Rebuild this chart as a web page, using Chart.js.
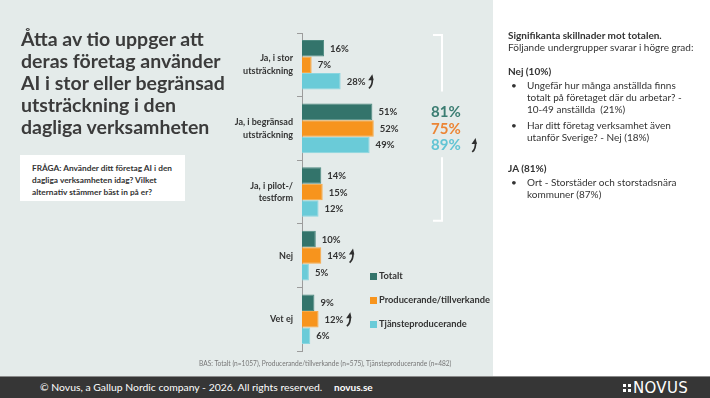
<!DOCTYPE html>
<html>
<head>
<meta charset="utf-8">
<script src="https://cdn.jsdelivr.net/npm/chart.js@4"></script>
<style>
  html, body { margin: 0; padding: 0; }
  body { width: 710px; height: 398px; position: relative; overflow: hidden; background: #fff; font-family: Lato, "Open Sans", sans-serif; color: #333; }
  #panel { position: absolute; left: 0; top: 0; width: 493px; height: 376px; background: #e4ebea; }
  #chart { position: absolute; left: 0; top: 0; z-index: 1; }
  .txt { position: absolute; z-index: 2; }
  #title { left: 21px; top: 28px; font-size: 19.5px; font-weight: 700; line-height: 22px; color: #3b3b3b; }
  #question { left: 20px; top: 155px; width: 165px; height: 46px; background: #fff; box-sizing: border-box; padding: 7px 0 0 12px; font-size: 8.3px; font-weight: 700; line-height: 12px; color: #333; }
  #legend { left: 370px; top: 270px; font-size: 9.3px; font-weight: 700; color: #333; }
  #legend div { height: 24px; display: flex; align-items: flex-start; }
  #legend span { display: inline-block; width: 7px; height: 7px; margin: 3px 2px 0 0; }
  #bas { left: 199px; top: 359px; font-size: 6.6px; color: #777; white-space: nowrap; }
  #side { left: 508px; top: 29px; font-size: 10px; line-height: 12px; color: #333; width: 200px; white-space: nowrap; }
  #side b { font-weight: 700; }
  #side ul { margin: 2px 0 0 0; padding: 0; list-style: none; }
  #side li { position: relative; padding-left: 19px; margin-bottom: 4px; }
  #side li:before { content: "•"; position: absolute; left: 3px; }
  #footer { position: absolute; left: 0; top: 376px; width: 710px; height: 22px; background: #363636; border-top: 1px solid #8a8a8a; box-sizing: border-box; color: #fff; }
  #copy { position: absolute; left: 40px; top: 4px; font-size: 10.4px; }
  #site { position: absolute; left: 334px; top: 4px; font-size: 10px; font-weight: 700; }
  #logo { position: absolute; left: 623px; top: 2px; font-size: 15px; font-family: "DejaVu Sans", sans-serif; letter-spacing: 0.3px; }
  #logo i { display: inline-block; width: 8px; height: 8px; margin-right: 2px; vertical-align: 1px;
    background: linear-gradient(#fff, #fff) 0 0 / 3px 3px no-repeat, linear-gradient(#fff, #fff) 5px 0 / 3px 3px no-repeat,
                linear-gradient(#fff, #fff) 0 5px / 3px 3px no-repeat, linear-gradient(#fff, #fff) 5px 5px / 3px 3px no-repeat; }
</style>
</head>
<body>
<div id="panel"></div>
<canvas id="chart" width="710" height="398"></canvas>

<div class="txt" id="title">Åtta av tio uppger att<br>deras företag använder<br>AI i stor eller begränsad<br>utsträckning i den<br>dagliga verksamheten</div>
<div class="txt" id="question">FRÅGA: Använder ditt företag AI i den<br>dagliga verksamheten idag? Vilket<br>alternativ stämmer bäst in på er?</div>

<div class="txt" id="legend">
  <div><span style="background:#33746b"></span>Totalt</div>
  <div><span style="background:#f7941d"></span>Producerande/tillverkande</div>
  <div><span style="background:#6acbd8"></span>Tjänsteproducerande</div>
</div>

<div class="txt" id="bas">BAS: Totalt (n=1057), Producerande/tillverkande (n=575), Tjänsteproducerande (n=482)</div>

<div class="txt" id="side">
  <b>Signifikanta skillnader mot totalen.</b><br>
  Följande undergrupper svarar i högre grad:
  <div style="height:12px"></div>
  <b>Nej (10%)</b>
  <ul>
    <li>Ungefär hur många anställda finns<br>totalt på företaget där du arbetar? -<br>10-49 anställda&nbsp; (21%)</li>
    <li>Har ditt företag verksamhet även<br>utanför Sverige? - Nej (18%)</li>
  </ul>
  <div style="height:15px"></div>
  <b>JA (81%)</b>
  <ul>
    <li>Ort - Storstäder och storstadsnära<br>kommuner (87%)</li>
  </ul>
</div>

<div id="footer">
  <div id="copy">© Novus, a Gallup Nordic company - 2026. All rights reserved.</div>
  <div id="site">novus.se</div>
  <div id="logo"><i></i>NOVUS</div>
</div>

<script>
// svarsalternativ
const categories = [['Ja, i stor', 'utsträckning'], ['Ja, i begränsad', 'utsträckning'], ['Ja, i pilot-/', 'testform'], 'Nej', 'Vet ej'];

// andel i procent
const totalt = [16, 51, 14, 10, 9];
const producerande = [7, 52, 15, 14, 12];
const tjanste = [28, 49, 12, 5, 6];

// signifikant högre än totalen
const upTotalt = [false, false, false, false, false];
const upProducerande = [false, false, false, true, true];
const upTjanste = [true, false, false, false, false];

// summa "Ja" per grupp
const jaSumma = [81, 75, 89];
const jaSummaUp = [false, false, true];
const jaFarger = ['#3b7d72', '#ec8534', '#62c4d4'];

const upFlags = [upTotalt, upProducerande, upTjanste];

function drawUp(ctx, x, y) {
    ctx.save();
    ctx.fillStyle = '#2e2e2e';
    ctx.strokeStyle = '#2e2e2e';
    ctx.lineWidth = 1.7;
    ctx.beginPath();
    ctx.moveTo(x - 2.5, y + 7);
    ctx.quadraticCurveTo(x + 1.3, y + 4, x + 0.8, y - 3);
    ctx.stroke();
    ctx.beginPath();
    ctx.moveTo(x - 3.2, y - 1);
    ctx.lineTo(x + 0.9, y - 7);
    ctx.lineTo(x + 2.2, y - 1);
    ctx.closePath();
    ctx.fill();
    ctx.restore();
}

const extras = {
    id: 'extras',
    afterDatasetsDraw(chart) {
        const ctx = chart.ctx;
        ctx.save();
        ctx.font = 'bold 9.5px Lato';
        ctx.fillStyle = '#333';
        ctx.textBaseline = 'middle';
        chart.data.datasets.forEach((ds, di) => {
            chart.getDatasetMeta(di).data.forEach((bar, i) => {
                const txt = ds.data[i] + '%';
                const x = bar.x + 6;
                ctx.fillText(txt, x, bar.y + 0.5);
                if (upFlags[di][i]) {
                    drawUp(ctx, x + ctx.measureText(txt).width + 6, bar.y);
                }
            });
        });

        // summa Ja
        const yScale = chart.scales.y;
        const half = (yScale.getPixelForValue(1) - yScale.getPixelForValue(0)) / 2;
        const sx = chart.chartArea.right - 9;
        ctx.font = 'bold 15px Lato';
        jaSumma.forEach((v, i) => {
            const bar = chart.getDatasetMeta(i).data[1];
            ctx.fillStyle = jaFarger[i];
            ctx.fillText(v + '%', sx, bar.y + 0.5);
            if (jaSummaUp[i]) drawUp(ctx, sx + ctx.measureText(v + '%').width + 14, bar.y);
        });

        // klammer
        const top = yScale.getPixelForValue(0) - half + 2;
        const bottom = yScale.getPixelForValue(2) + half - 3;
        const gapTop = yScale.getPixelForValue(1) - half - 5;
        const gapBottom = yScale.getPixelForValue(1) + half - 3;
        const bx = chart.chartArea.right + 2;
        ctx.strokeStyle = '#fff';
        ctx.lineWidth = 2;
        ctx.beginPath();
        ctx.moveTo(bx - 9, top);
        ctx.lineTo(bx, top);
        ctx.lineTo(bx, gapTop);
        ctx.moveTo(bx, gapBottom);
        ctx.lineTo(bx, bottom);
        ctx.lineTo(bx - 9, bottom);
        ctx.stroke();
        ctx.restore();
    }
};

new Chart(document.getElementById('chart'), {
    type: 'bar',
    data: {
        labels: categories,
        datasets: [
            { label: 'Totalt', data: totalt, backgroundColor: '#33746b', borderColor: '#4e8a81' },
            { label: 'Producerande/tillverkande', data: producerande, backgroundColor: '#f7941d', borderColor: '#f9a946' },
            { label: 'Tjänsteproducerande', data: tjanste, backgroundColor: '#6acbd8', borderColor: '#8ad6e0' }
        ]
    },
    options: {
        indexAxis: 'y',
        responsive: false,
        animation: false,
        datasets: {
            bar: { categoryPercentage: 0.78, barPercentage: 1, borderWidth: 1 }
        },
        layout: { padding: { left: 212, top: 33, right: 270, bottom: 47 } },
        plugins: { legend: { display: false }, tooltip: { enabled: false } },
        scales: {
            x: { min: 0, max: 100, display: false },
            y: {
                grid: { drawOnChartArea: false, drawTicks: true, tickLength: 5, color: '#9c9c9c', offset: true },
                border: { display: true, color: '#9c9c9c' },
                ticks: { color: '#333', padding: 4, font: { family: 'Lato', weight: 'bold', size: 9, lineHeight: 1.4 } },
                afterFit(scale) { scale.width = 90; }
            }
        }
    },
    plugins: [extras]
});
</script>
</body>
</html>
